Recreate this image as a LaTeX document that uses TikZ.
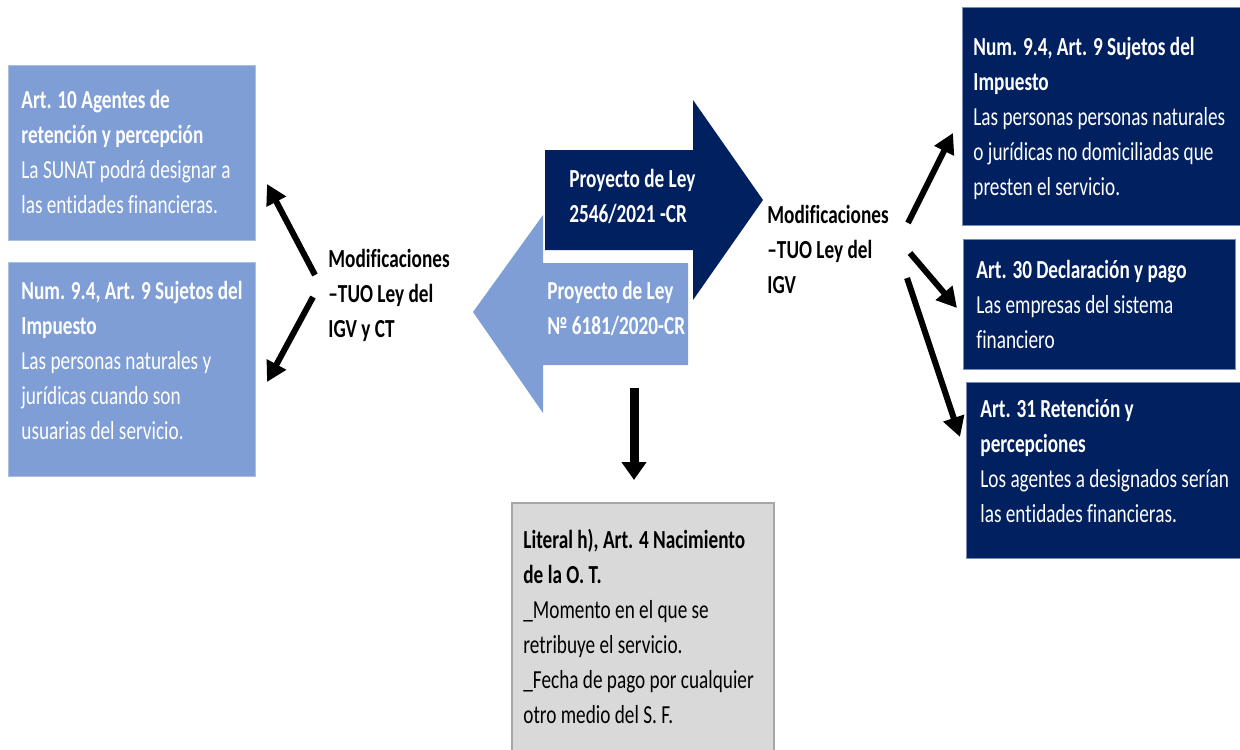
\documentclass[tikz,border=0pt]{standalone}
\usepackage{fontspec}
\setmainfont{Carlito}[FakeStretch=0.74, Ligatures=NoCommon]
\usetikzlibrary{arrows.meta,fit}

\definecolor{navy}{RGB}{0,32,96}
\definecolor{navyedge}{RGB}{120,140,180}
\definecolor{softblue}{RGB}{127,158,214}
\definecolor{softedge}{RGB}{170,190,228}
\definecolor{greyfill}{RGB}{217,217,217}
\definecolor{greyedge}{RGB}{166,166,166}

% text nodes are anchored on the baseline of their last line
\tikzset{
  boxsoft/.style={fill=softblue, draw=softedge, line width=0.5pt, inner sep=0pt},
  boxnavy/.style={fill=navy, draw=navyedge, line width=0.5pt, inner sep=0pt},
  boxgrey/.style={fill=greyfill, draw=greyedge, line width=0.6pt, inner sep=0pt},
  txt/.style={anchor=base west, inner sep=0pt, align=left,
    font=\fontsize{13}{17.5}\selectfont},
  wtxt/.style={txt, text=white},
  btxt/.style={txt, text=black},
  boldtxt/.style={font=\fontsize{13}{17.5}\selectfont\bfseries},
  link/.style={line width=3pt, draw=black,
    -{Triangle[length=10pt,width=10.5pt]}},
  downlink/.style={line width=4.5pt, draw=black,
    -{Triangle[length=9pt,width=12pt]}},
}

\begin{document}
\begin{tikzpicture}[x=0.5pt, y=-0.5pt]
\useasboundingbox (0,0) rectangle (1240,749);

% left column
\node[boxsoft, fit={(8,66) (255,240)}] (agentes) {};
\node[boxsoft, fit={(8,262) (255,476)}] (sujetosL) {};
\node[wtxt] (agentesT) at (21,213) {\textbf{Art. 10 Agentes de}\\\textbf{retención y percepción}\\La SUNAT podrá designar a\\las entidades financieras.};
\node[wtxt] (sujetosLT) at (21,439) {\textbf{Num. 9.4, Art. 9 Sujetos del}\\\textbf{Impuesto}\\Las personas naturales y\\jurídicas cuando son\\usuarias del servicio.};

\node[btxt, boldtxt] (modL) at (328,337) {Modificaciones\\–TUO Ley del\\IGV y CT};

% central block arrows
\fill[softblue] (688,263) -- (543,263) -- (543,215) -- (473,312) -- (543,413) -- (543,365) -- (688,365) -- cycle;
\fill[navy] (545,150) -- (693,150) -- (693,100) -- (763,200) -- (693,300) -- (693,250) -- (545,250) -- cycle;
\node[wtxt, boldtxt] (p2546) at (569,222) {Proyecto de Ley\\2546/2021 -CR};
\node[wtxt, boldtxt] (p6181) at (547,334) {Proyecto de Ley\\№ 6181/2020-CR};

% bottom box
\node[boxgrey, fit={(512,503) (774,753)}] (literal) {};
\node[btxt] (literalT) at (523,723) {\textbf{Literal h), Art. 4 Nacimiento}\\\textbf{de la O. T.}\\\_Momento en el que se\\retribuye el servicio.\\\_Fecha de pago por cualquier\\otro medio del S. F.};

% right column
\node[btxt, boldtxt] (modR) at (767,293) {Modificaciones\\–TUO Ley del\\IGV};

\node[boxnavy, fit={(962,8) (1242,225)}] (sujetosR) {};
\node[boxnavy, fit={(963,239) (1235,369)}] (declar) {};
\node[boxnavy, fit={(966,382) (1242,558)}] (reten) {};
\node[wtxt] (sujetosRT) at (973,195) {\textbf{Num. 9.4, Art. 9 Sujetos del}\\\textbf{Impuesto}\\Las personas personas naturales\\o jurídicas no domiciliadas que\\presten el servicio.};
\node[wtxt] (declarT) at (976,348) {\textbf{Art. 30 Declaración y pago}\\Las empresas del sistema\\financiero};
\node[wtxt] (retenT) at (980,522) {\textbf{Art. 31 Retención y}\\\textbf{percepciones}\\Los agentes a designados serían\\las entidades financieras.};

% connector end points
\coordinate (mlA) at (315,275);
\coordinate (mlB) at (313,297);
\coordinate (toAgentes) at (267,184);
\coordinate (toSujetosL) at (267,382);
\coordinate (downFrom) at (634,388);
\coordinate (toLiteral) at (634,480);
\coordinate (mrA) at (908,223);
\coordinate (mrB) at (910,253);
\coordinate (mrC) at (907,278);
\coordinate (toSujetosR) at (953,133);
\coordinate (toDeclar) at (957,308);
\coordinate (toReten) at (960,437);

\draw[link] (mlA) -- (toAgentes);
\draw[link] (mlB) -- (toSujetosL);
\draw[downlink] (downFrom) -- (toLiteral);
\draw[link] (mrA) -- (toSujetosR);
\draw[link] (mrB) -- (toDeclar);
\draw[link] (mrC) -- (toReten);
\end{tikzpicture}
\end{document}
